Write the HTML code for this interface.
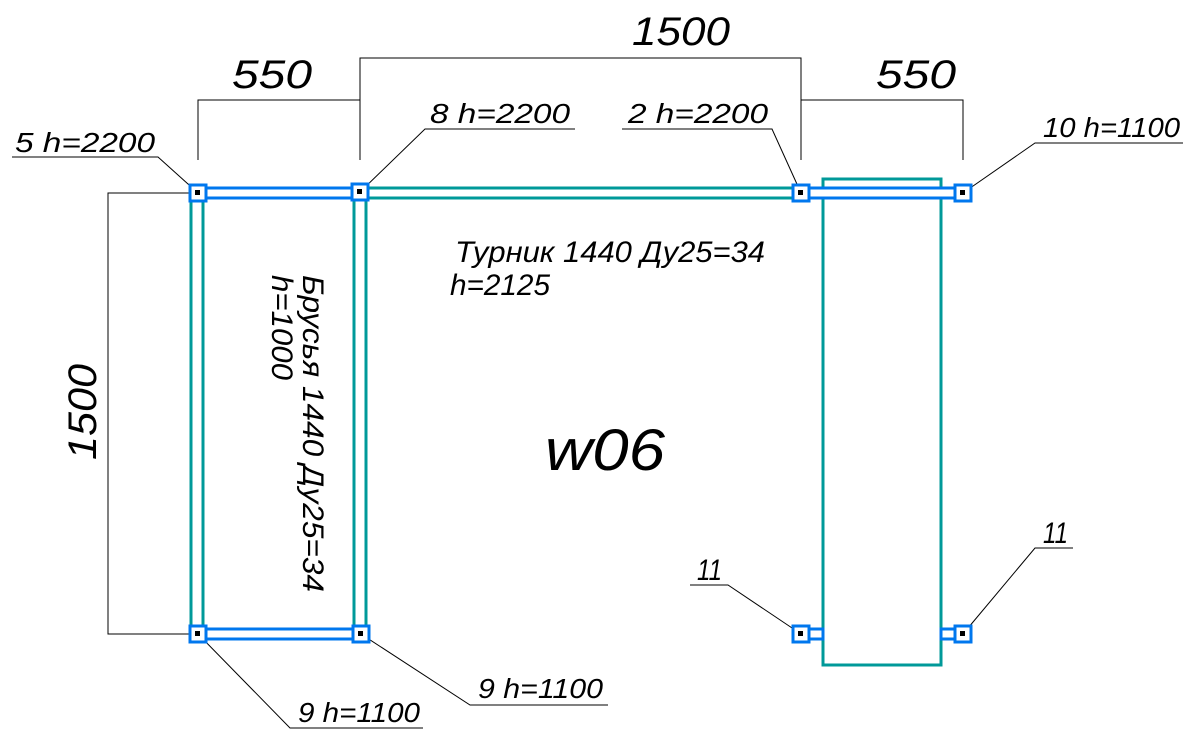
<!DOCTYPE html>
<html><head><meta charset="utf-8"><style>html,body{margin:0;padding:0;background:#fff}svg{display:block}</style></head>
<body>
<svg width="1188" height="737" viewBox="0 0 1188 737" xmlns="http://www.w3.org/2000/svg" font-family="Liberation Sans, sans-serif" font-style="italic">
<g stroke="#000" stroke-width="1" fill="none">
<polyline points="198,160 198,100 360,100"/>
<polyline points="360,160 360,58 801,58 801,160"/>
<polyline points="801,100 963,100 963,160"/>
<polyline points="190,193 108,193 108,634 190,634"/>
<polyline points="12,157 158,157 198,193"/>
<polyline points="575,129 425,129 360,192"/>
<polyline points="622,129 772,129 801,193"/>
<polyline points="1183,143 1035,143 963,193"/>
<polyline points="1073,548 1035,548 963,634"/>
<polyline points="690,585 728,585 801,634"/>
<polyline points="608,705 470,705 361,634"/>
<polyline points="423,728 290,728 198,634"/>
</g>
<g stroke="#009999" stroke-width="3" fill="none">
<line x1="191" y1="201" x2="191" y2="626"/>
<line x1="203" y1="201" x2="203" y2="626"/>
<line x1="354" y1="201" x2="354" y2="626"/>
<line x1="366" y1="201" x2="366" y2="626"/>
<line x1="368" y1="188" x2="793" y2="188"/>
<line x1="368" y1="198" x2="793" y2="198"/>
<rect x="823" y="179" width="118" height="486"/>
</g>
<g stroke="#0077ee" stroke-width="3" fill="#fff">
<rect x="206" y="188" width="146" height="10"/>
<rect x="809" y="188" width="146" height="10"/>
<rect x="206" y="629" width="147" height="10"/>
<rect x="809" y="629" width="14" height="10"/>
<rect x="941" y="629" width="14" height="10"/>
<rect x="190" y="185" width="16" height="16"/>
<rect x="352" y="184" width="16" height="16"/>
<rect x="793" y="185" width="16" height="16"/>
<rect x="955" y="185" width="16" height="16"/>
<rect x="190" y="626" width="16" height="16"/>
<rect x="353" y="626" width="16" height="16"/>
<rect x="793" y="626" width="16" height="16"/>
<rect x="955" y="626" width="16" height="16"/>
</g>
<g fill="#000">
<rect x="195" y="190" width="5" height="5"/><rect x="357" y="189" width="5" height="5"/>
<rect x="798" y="190" width="5" height="5"/><rect x="960" y="190" width="5" height="5"/>
<rect x="195" y="631" width="5" height="5"/><rect x="358" y="631" width="5" height="5"/>
<rect x="798" y="631" width="5" height="5"/><rect x="960" y="631" width="5" height="5"/>
</g>
<g fill="#000">
<text x="232" y="88" font-size="40" textLength="80" lengthAdjust="spacingAndGlyphs">550</text>
<text x="632" y="45" font-size="40" textLength="98" lengthAdjust="spacingAndGlyphs">1500</text>
<text x="876" y="88" font-size="40" textLength="80" lengthAdjust="spacingAndGlyphs">550</text>
<text transform="translate(96,460) rotate(-90)" font-size="40" textLength="96" lengthAdjust="spacingAndGlyphs">1500</text>
<text x="15" y="152" font-size="28" textLength="140" lengthAdjust="spacingAndGlyphs">5 h=2200</text>
<text x="430" y="123" font-size="28" textLength="140" lengthAdjust="spacingAndGlyphs">8 h=2200</text>
<text x="628" y="123" font-size="28" textLength="140" lengthAdjust="spacingAndGlyphs">2 h=2200</text>
<text x="1043" y="137" font-size="28" textLength="137" lengthAdjust="spacingAndGlyphs">10 h=1100</text>
<text x="1043" y="543" font-size="30" textLength="25" lengthAdjust="spacingAndGlyphs">11</text>
<text x="697" y="580" font-size="30" textLength="25" lengthAdjust="spacingAndGlyphs">11</text>
<text x="478" y="698" font-size="28" textLength="125" lengthAdjust="spacingAndGlyphs">9 h=1100</text>
<text x="298" y="722" font-size="28" textLength="122" lengthAdjust="spacingAndGlyphs">9 h=1100</text>
<text x="455" y="262" font-size="30" textLength="310" lengthAdjust="spacingAndGlyphs">Турник 1440 Ду25=34</text>
<text x="450" y="295" font-size="30" textLength="100" lengthAdjust="spacingAndGlyphs">h=2125</text>
<text x="545" y="470" font-size="58" textLength="120" lengthAdjust="spacingAndGlyphs">w06</text>
<text transform="translate(303,275) rotate(90)" font-size="30" textLength="317" lengthAdjust="spacingAndGlyphs">Брусья 1440 Ду25=34</text>
<text transform="translate(272,275) rotate(90)" font-size="30" textLength="105" lengthAdjust="spacingAndGlyphs">h=1000</text>
</g>
</svg>
</body></html>
